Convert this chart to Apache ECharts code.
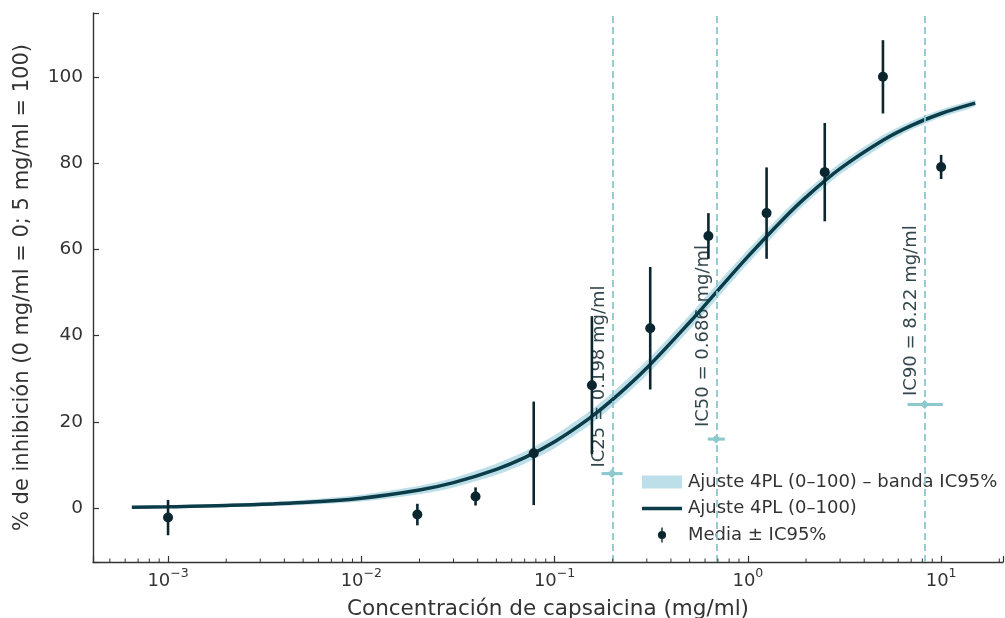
<!DOCTYPE html>
<html>
<head>
<meta charset="utf-8">
<script src="https://cdn.jsdelivr.net/npm/echarts@6/dist/echarts.min.js"></script>
<style>
  html, body { margin: 0; padding: 0; background: #fff; }
  #chart { width: 1005px; height: 618px; }
</style>
</head>
<body>
<div id="chart"></div>
<script>
// datos
var concentraciones = [0.001, 0.0195, 0.039, 0.078, 0.156, 0.3125, 0.625, 1.25, 2.5, 5, 10];
var mediaInhibicion = [-2.2, -1.5, 2.7, 12.7, 28.5, 41.7, 63.1, 68.4, 77.9, 100, 79.1];
var ic95Media = [4.1, 2.5, 2.1, 12.0, 16.0, 14.2, 5.3, 10.6, 11.4, 8.5, 2.8];

// curva del ajuste 4PL y su banda
var ajusteX = [0.00065, 0.001, 0.002, 0.005, 0.01, 0.02, 0.03, 0.05, 0.07, 0.1, 0.15, 0.2, 0.3, 0.5, 0.7, 1, 1.5, 2, 3, 5, 7, 10, 15];
var ajusteY = [0.2, 0.3, 0.6, 1.3, 2.3, 4.2, 5.9, 9.0, 11.7, 15.4, 20.7, 25.2, 32.5, 43.1, 50.5, 58.3, 66.7, 72.1, 78.7, 85.3, 88.7, 91.5, 93.9];
var bandaInf = [0.0, 0.0, 0.2, 0.7, 1.5, 3.2, 4.8, 7.7, 10.3, 13.9, 19.1, 23.6, 30.8, 41.4, 48.8, 56.7, 65.2, 70.7, 77.4, 84.1, 87.7, 90.6, 93.2];
var bandaSup = [0.4, 0.6, 1.0, 1.9, 3.1, 5.2, 7.0, 10.3, 13.1, 16.9, 22.3, 26.8, 34.2, 44.8, 52.2, 59.9, 68.2, 73.5, 80.0, 86.5, 89.7, 92.4, 94.6];

// concentraciones inhibitorias
var icNombres = ['IC25', 'IC50', 'IC90'];
var icValores = [0.198, 0.686, 8.22];
var icInf = [0.175, 0.62, 6.7];
var icSup = [0.225, 0.76, 10.2];
var icAltura = [8, 16, 24];
var icTextoY = [9.4, 18.8, 26.0];

var xMin = 0.000409, xMax = 20.9;
var yMin = -12.5, yMax = 114.8;

var decadas = [1e-4, 1e-3, 1e-2, 1e-1, 1, 10];
var subdivisiones = [2, 3, 4, 5, 6, 7, 8, 9];
var ticksMenores = [];
decadas.forEach(function (d) {
    subdivisiones.forEach(function (s) {
        var v = d * s;
        if (v >= xMin && v <= xMax) ticksMenores.push(v);
    });
});

var fuente = 'DejaVu Sans';
var colorTexto = '#333';
var colorCurva = '#0b3c48';
var colorPuntos = '#0c2630';
var colorBanda = '#bddfe9';
var colorIC = '#8cc8ce';

var nombreBanda = 'Ajuste 4PL (0–100) – banda IC95%';
var nombreAjuste = 'Ajuste 4PL (0–100)';
var nombreMedia = 'Media ± IC95%';

function etiquetaLog(v) {
    var e = Math.log10(v);
    if (Math.abs(e - Math.round(e)) > 1e-6) return '';
    e = Math.round(e);
    return '{b|10}{s|' + (e < 0 ? '−' + (-e) : e) + '}';
}

var chart = echarts.init(document.getElementById('chart'));

var option = {
    animation: false,
    backgroundColor: '#fff',
    grid: { left: 93, right: 2, top: 13, bottom: 56, containLabel: false, outerBoundsMode: 'none' },
    legend: {
        orient: 'vertical',
        left: 637,
        top: 468,
        itemWidth: 40,
        itemHeight: 15,
        itemGap: 8.5,
        selectedMode: false,
        textStyle: { fontSize: 18, color: colorTexto, fontFamily: fuente, padding: [0, 0, 0, 1] },
        data: [
            { name: nombreBanda, icon: 'path://M0,0H40V13H0Z' },
            { name: nombreAjuste, icon: 'path://M0,0H40V3.5H0Z' },
            { name: nombreMedia, icon: 'path://M4.2,0H5.8V17H4.2Z M9.6,8.5A4.6,4.6 0 1 1 0.4,8.5A4.6,4.6 0 1 1 9.6,8.5Z' }
        ]
    },
    xAxis: {
        type: 'log',
        logBase: 10,
        min: xMin,
        max: xMax,
        name: 'Concentración de capsaicina (mg/ml)',
        nameLocation: 'middle',
        nameGap: 36,
        nameTextStyle: { fontSize: 21.5, color: colorTexto, fontFamily: fuente },
        axisLine: { onZero: false, lineStyle: { color: '#333', width: 1.4 } },
        axisTick: { inside: true, length: 6, lineStyle: { color: '#333', width: 1.2 } },
        splitLine: { show: false },
        axisLabel: {
            margin: 8,
            formatter: etiquetaLog,
            rich: {
                b: { fontSize: 18, color: colorTexto, fontFamily: fuente, lineHeight: 20, verticalAlign: 'bottom' },
                s: { fontSize: 12.5, color: colorTexto, fontFamily: fuente, lineHeight: 12, padding: [0, 0, 10, 0], verticalAlign: 'bottom' }
            }
        }
    },
    yAxis: {
        type: 'value',
        min: yMin,
        max: yMax,
        splitNumber: 6,
        name: '% de inhibición (0 mg/ml = 0; 5 mg/ml = 100)',
        nameLocation: 'middle',
        nameGap: 60,
        nameTextStyle: { fontSize: 21, color: colorTexto, fontFamily: fuente },
        axisLine: { show: true, onZero: false, lineStyle: { color: '#333', width: 1.4 } },
        axisTick: { show: true, inside: true, length: 6, lineStyle: { color: '#333', width: 1.2 } },
        splitLine: { show: false },
        axisLabel: {
            margin: 10,
            fontSize: 18.5,
            color: colorTexto,
            fontFamily: fuente,
            formatter: function (v) {
                return Math.abs(v / 20 - Math.round(v / 20)) < 1e-6 ? String(Math.round(v)) : '';
            }
        }
    },
    series: [
        {
            name: nombreBanda,
            type: 'custom',
            z: 1,
            silent: true,
            itemStyle: { color: colorBanda },
            data: ajusteX.map(function (x, i) { return [x, bandaInf[i], bandaSup[i]]; }),
            encode: { x: 0, y: [1, 2] },
            renderItem: function (params, api) {
                if (params.dataIndex !== 0) return null;
                var pts = [];
                for (var i = 0; i < ajusteX.length; i++) pts.push(api.coord([ajusteX[i], bandaSup[i]]));
                for (var j = ajusteX.length - 1; j >= 0; j--) pts.push(api.coord([ajusteX[j], bandaInf[j]]));
                return { type: 'polygon', shape: { points: pts, smooth: 0.2 }, style: { fill: colorBanda } };
            }
        },
        {
            name: 'ic',
            type: 'custom',
            z: 2,
            silent: true,
            data: icValores.map(function (v, i) { return [v, icInf[i], icSup[i], icAltura[i], icTextoY[i]]; }),
            encode: { x: [0, 1, 2], y: [3, 4] },
            renderItem: function (params, api) {
                var i = params.dataIndex;
                var a = api.coord([api.value(1), api.value(3)]);
                var b = api.coord([api.value(2), api.value(3)]);
                var c = api.coord([api.value(0), api.value(3)]);
                var t = api.coord([api.value(0), api.value(4)]);
                return {
                    type: 'group',
                    children: [
                        { type: 'line', shape: { x1: a[0], y1: a[1], x2: b[0], y2: b[1] }, style: { stroke: colorIC, lineWidth: 3 } },
                        { type: 'polygon', shape: { points: [[c[0], c[1] - 4.5], [c[0] + 4.5, c[1]], [c[0], c[1] + 4.5], [c[0] - 4.5, c[1]]] }, style: { fill: colorIC } },
                        {
                            type: 'text', x: t[0] - 4, y: t[1], rotation: Math.PI / 2,
                            style: {
                                text: icNombres[i] + ' = ' + icValores[i] + ' mg/ml',
                                align: 'left', verticalAlign: 'bottom',
                                fontSize: 18, fontFamily: fuente, fill: '#33474d'
                            }
                        }
                    ]
                };
            }
        },
        {
            name: nombreAjuste,
            type: 'line',
            z: 3,
            smooth: 0.35,
            symbol: 'none',
            lineStyle: { color: colorCurva, width: 3.5 },
            itemStyle: { color: colorCurva },
            data: ajusteX.map(function (x, i) { return [x, ajusteY[i]]; }),
            markLine: {
                silent: true,
                symbol: ['none', 'none'],
                label: { show: false },
                lineStyle: { type: [7, 4], color: colorIC, width: 1.8 },
                data: icValores.map(function (v) { return { xAxis: v }; })
            }
        },
        {
            name: nombreMedia,
            type: 'custom',
            z: 4,
            itemStyle: { color: colorPuntos },
            data: concentraciones.map(function (c, i) { return [c, mediaInhibicion[i] - ic95Media[i], mediaInhibicion[i] + ic95Media[i]]; }),
            encode: { x: 0, y: [1, 2] },
            renderItem: function (params, api) {
                var a = api.coord([api.value(0), api.value(1)]);
                var b = api.coord([api.value(0), api.value(2)]);
                return { type: 'line', shape: { x1: a[0], y1: a[1], x2: b[0], y2: b[1] }, style: { stroke: colorPuntos, lineWidth: 2.6 } };
            }
        },
        {
            name: nombreMedia,
            type: 'scatter',
            z: 5,
            symbol: 'circle',
            symbolSize: 10,
            itemStyle: { color: colorPuntos, opacity: 1 },
            data: concentraciones.map(function (c, i) { return [c, mediaInhibicion[i]]; })
        },
        {
            name: 'ticks menores',
            type: 'custom',
            z: 6,
            silent: true,
            data: ticksMenores.map(function (v) { return [v, yMin]; }),
            renderItem: function (params, api) {
                var p = api.coord([api.value(0), api.value(1)]);
                return { type: 'line', shape: { x1: p[0], y1: p[1], x2: p[0], y2: p[1] - 3.5 }, style: { stroke: '#333', lineWidth: 1 } };
            }
        }
    ]
};

chart.setOption(option);
</script>
</body>
</html>
